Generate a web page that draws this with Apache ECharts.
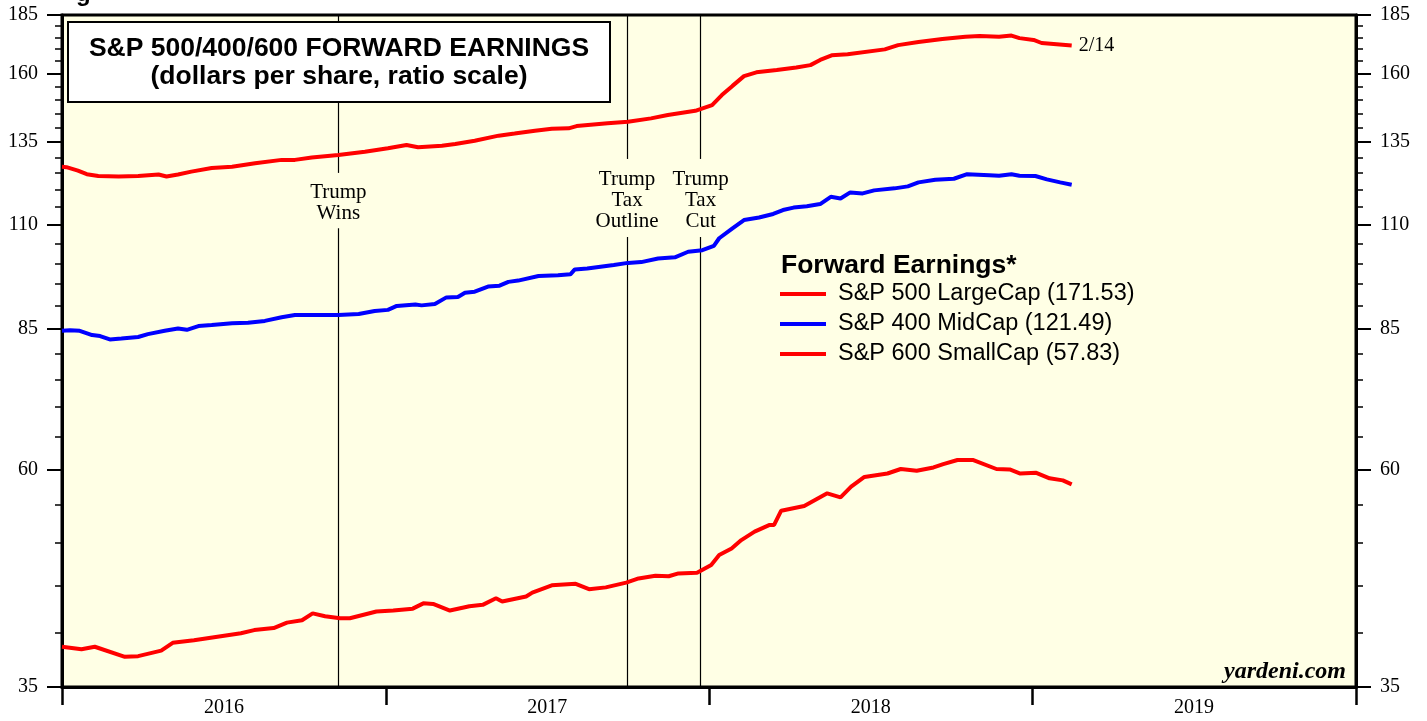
<!DOCTYPE html>
<html lang="en">
<head>
<meta charset="utf-8">
<title>S&amp;P 500/400/600 Forward Earnings</title>
<script src="https://cdn.jsdelivr.net/npm/echarts@6/dist/echarts.min.js"></script>
<style>
  html, body { margin: 0; padding: 0; background: #fff; }
  #main { width: 1427px; height: 721px; }
</style>
</head>
<body>
<div id="main"></div>
<script>
// weekly forward earnings (dollars per share)
var largeDates = ['2016-01-01','2016-01-06','2016-01-19','2016-01-29','2016-02-11','2016-03-05','2016-03-27','2016-04-19','2016-04-28','2016-05-11',
  '2016-05-26','2016-06-18','2016-07-11','2016-08-06','2016-09-05','2016-09-20','2016-10-09','2016-11-08','2016-12-08','2017-01-03',
  '2017-01-24','2017-02-06','2017-03-05','2017-03-20','2017-04-11','2017-05-08','2017-05-26','2017-06-18','2017-07-07','2017-07-26',
  '2017-08-04','2017-09-08','2017-10-01','2017-10-27','2017-11-15','2017-12-16','2018-01-04','2018-01-15','2018-01-27','2018-02-09',
  '2018-02-23','2018-03-18','2018-04-09','2018-04-25','2018-05-06','2018-05-19','2018-06-06','2018-07-18','2018-08-02','2018-08-25',
  '2018-09-21','2018-10-17','2018-11-02','2018-11-24','2018-12-08','2018-12-17','2019-01-02','2019-01-11','2019-01-28','2019-02-14'];
var largeVals = [127.0,126.9,125.8,124.7,124.15,124.0,124.15,124.6,124.0,124.6,
  125.5,126.6,127.0,128.1,129.2,129.2,130.0,130.8,131.85,132.96,
  134.05,133.3,133.8,134.4,135.5,137.2,137.9,138.9,139.6,139.7,
  140.5,141.5,142.0,143.2,144.4,145.9,148.0,151.7,155.2,159.0,
  160.5,161.4,162.4,163.4,165.5,167.4,167.9,169.9,171.7,173.0,
  174.3,175.3,175.6,175.3,175.8,174.7,173.9,172.6,172.1,171.53];

var midDates = ['2016-01-01','2016-01-10','2016-01-21','2016-02-04','2016-02-13','2016-02-24','2016-03-08','2016-03-27','2016-04-07','2016-04-26',
  '2016-05-11','2016-05-21','2016-06-03','2016-06-18','2016-07-11','2016-07-29','2016-08-17','2016-09-05','2016-09-20','2016-10-20',
  '2016-11-08','2016-12-01','2016-12-19','2017-01-03','2017-01-13','2017-02-03','2017-02-10','2017-02-25','2017-03-10','2017-03-23',
  '2017-03-31','2017-04-11','2017-04-26','2017-05-09','2017-05-19','2017-05-30','2017-06-22','2017-07-14','2017-07-28','2017-08-02',
  '2017-08-16','2017-09-15','2017-10-01','2017-10-16','2017-11-04','2017-11-23','2017-12-08','2017-12-24','2018-01-06','2018-01-12',
  '2018-01-27','2018-02-09','2018-02-26','2018-03-14','2018-03-25','2018-04-06','2018-04-21','2018-05-06','2018-05-18','2018-05-29',
  '2018-06-09','2018-06-23','2018-07-06','2018-07-29','2018-08-13','2018-08-25','2018-09-13','2018-10-04','2018-10-19','2018-11-13',
  '2018-11-24','2018-12-08','2018-12-17','2019-01-04','2019-01-17','2019-02-01','2019-02-14'];
var midVals = [84.6,84.7,84.6,83.7,83.5,82.8,83.0,83.3,83.9,84.6,
  85.1,84.8,85.6,85.8,86.2,86.3,86.7,87.5,87.97,88.0,
  88.0,88.2,88.85,89.1,89.97,90.3,90.1,90.4,91.9,92.0,
  92.97,93.2,94.4,94.6,95.5,95.8,96.9,97.1,97.3,98.5,
  98.7,99.6,100.1,100.3,101.2,101.5,102.9,103.3,104.4,106.4,
  109.05,111.3,112.0,113.0,114.1,114.8,115.2,115.8,117.9,117.4,
  119.2,118.9,119.8,120.4,121.0,122.2,123.0,123.3,124.7,124.4,
  124.2,124.7,124.2,124.15,123.1,122.2,121.49];

var smallDates = ['2016-01-01','2016-01-23','2016-02-07','2016-03-12','2016-03-27','2016-04-22','2016-05-05','2016-05-29','2016-07-21','2016-08-05',
  '2016-08-27','2016-09-11','2016-09-28','2016-10-10','2016-10-24','2016-11-10','2016-11-21','2016-12-21','2017-01-09','2017-01-31',
  '2017-02-12','2017-02-23','2017-03-14','2017-04-05','2017-04-20','2017-05-05','2017-05-12','2017-06-08','2017-06-15','2017-07-07',
  '2017-08-03','2017-08-18','2017-09-06','2017-09-29','2017-10-13','2017-11-01','2017-11-16','2017-11-27','2017-12-18','2018-01-03',
  '2018-01-12','2018-01-26','2018-02-06','2018-02-21','2018-03-10','2018-03-15','2018-03-23','2018-04-18','2018-05-14','2018-05-29',
  '2018-06-10','2018-06-25','2018-07-21','2018-08-05','2018-08-23','2018-09-11','2018-09-22','2018-10-08','2018-10-26','2018-11-21',
  '2018-12-06','2018-12-18','2019-01-05','2019-01-20','2019-02-04','2019-02-14'];
var smallVals = [38.67,38.43,38.67,37.72,37.78,38.3,39.05,39.3,39.98,40.3,
  40.5,41.05,41.3,42.0,41.7,41.5,41.5,42.2,42.3,42.5,
  43.06,43.0,42.3,42.75,42.9,43.6,43.25,43.8,44.22,45.03,
  45.2,44.6,44.8,45.33,45.8,46.1,46.05,46.38,46.45,47.35,
  48.54,49.34,50.37,51.43,52.3,52.3,54.17,54.8,56.55,56.0,
  57.5,58.9,59.4,60.07,59.8,60.3,60.8,61.42,61.42,60.07,
  60.0,59.4,59.5,58.7,58.4,57.83];

var seriesNames = ['S&P 500 LargeCap (171.53)', 'S&P 400 MidCap (121.49)', 'S&P 600 SmallCap (57.83)'];

var yTickLabels = [35, 60, 85, 110, 135, 160, 185];
var yearStarts = ['2016-01-01', '2017-01-01', '2018-01-01', '2019-01-01', '2020-01-01'];
var yearMids = ['2016-07-02', '2017-07-02', '2018-07-02', '2019-07-02'];

var events = [
  { date: '2016-11-08', text: 'Trump\nWins', gapTop: 125.1, gapBottom: 109.1, mid: 116.0 },
  { date: '2017-09-30', text: 'Trump\nTax\nOutline', gapTop: 129.5, gapBottom: 106.7, mid: 116.8 },
  { date: '2017-12-22', text: 'Trump\nTax\nCut', gapTop: 129.5, gapBottom: 106.7, mid: 116.8 }
];

// ratio scale: plot the log of each value; dates as UTC milliseconds
function toRatio(v) { return Math.log(v); }
function ms(d) { return Date.parse(d); }
function pairs(dates, vals) {
  return dates.map(function (d, i) { return [ms(d), toRatio(vals[i])]; });
}

var yMin = toRatio(35), yMax = toRatio(185);
var minorTicks = [];
for (var t = 35; t <= 185; t += 5) minorTicks.push(toRatio(t));
var majorTicks = yTickLabels.map(toRatio);

var serif = '"Liberation Serif", "Times New Roman", serif';
var sans = '"Liberation Sans", Arial, Helvetica, sans-serif';

function yAxisDef(pos, major) {
  return {
    type: 'value', position: pos, min: yMin, max: yMax,
    axisLine: { show: major, lineStyle: { color: '#000', width: 3 } },
    axisTick: { show: true, inside: false, customValues: major ? majorTicks : minorTicks,
      length: major ? 15 : 7, lineStyle: { color: '#000', width: major ? 2 : 1.5 } },
    axisLabel: { show: major, customValues: majorTicks, margin: 24,
      formatter: function (v) { return String(Math.round(Math.exp(v))); },
      color: '#000', fontFamily: serif, fontSize: 20 },
    splitLine: { show: false }
  };
}

var markLineData = [];
var markPointData = [];
events.forEach(function (e) {
  markLineData.push([{ coord: [ms(e.date), yMax] }, { coord: [ms(e.date), toRatio(e.gapTop)] }]);
  markLineData.push([{ coord: [ms(e.date), toRatio(e.gapBottom)] }, { coord: [ms(e.date), yMin] }]);
  markPointData.push({ name: e.text, coord: [ms(e.date), toRatio(e.mid)] });
});

var chart = echarts.init(document.getElementById('main'));
var option = {
  animation: false,
  backgroundColor: '#ffffff',
  grid: {
    left: 62, right: 71, top: 15, bottom: 34,
    show: true, backgroundColor: '#ffffe5', borderColor: '#000', borderWidth: 3,
    outerBoundsMode: 'none'
  },
  xAxis: {
    type: 'value', min: ms(yearStarts[0]), max: ms(yearStarts[yearStarts.length - 1]),
    axisLine: { lineStyle: { color: '#000', width: 3 } },
    axisTick: { show: true, inside: false, customValues: yearStarts.map(ms), length: 18,
      lineStyle: { color: '#000', width: 2.5 } },
    axisLabel: { customValues: yearMids.map(ms), margin: 11,
      formatter: function (v) { return String(new Date(v).getUTCFullYear()); },
      color: '#000', fontFamily: serif, fontSize: 20 },
    splitLine: { show: false }
  },
  yAxis: [yAxisDef('left', true), yAxisDef('left', false), yAxisDef('right', true), yAxisDef('right', false)],
  legend: {
    orient: 'vertical', left: 780, top: 282, padding: 0, itemWidth: 46, itemHeight: 4, itemGap: 6,
    icon: 'rect', data: seriesNames, selectedMode: false,
    textStyle: { color: '#000', fontFamily: sans, fontSize: 23.5, lineHeight: 24, padding: [0, 0, 0, 7] }
  },
  graphic: [
    { type: 'text', left: 76, top: -18, style: { text: 'g', font: 'bold 24px ' + sans, fill: '#000' } },
    { type: 'rect', shape: { x: 68, y: 22, width: 542, height: 80 },
      style: { fill: '#fff', stroke: '#000', lineWidth: 2 }, z: 10 },
    { type: 'text', x: 339, y: 49, z: 11,
      style: { text: 'S&P 500/400/600 FORWARD EARNINGS', font: 'bold 26.5px ' + sans, fill: '#000',
        align: 'center', verticalAlign: 'middle' } },
    { type: 'text', x: 339, y: 77, z: 11,
      style: { text: '(dollars per share, ratio scale)', font: 'bold 26.5px ' + sans, fill: '#000',
        align: 'center', verticalAlign: 'middle' } },
    { type: 'text', x: 781, y: 266, z: 11,
      style: { text: 'Forward Earnings*', font: 'bold 26.5px ' + sans, fill: '#000',
        align: 'left', verticalAlign: 'middle' } },
    { type: 'text', x: 1346, y: 672, z: 11,
      style: { text: 'yardeni.com', font: 'italic bold 24px ' + serif, fill: '#000',
        align: 'right', verticalAlign: 'middle' } }
  ],
  series: [
    {
      name: seriesNames[0], type: 'line', yAxisIndex: 0, z: 3,
      data: pairs(largeDates, largeVals), showSymbol: false, symbol: 'none',
      color: '#ff0000', lineStyle: { color: '#ff0000', width: 4 },
      endLabel: { show: true, formatter: '2/14', distance: 7, color: '#000', fontFamily: serif, fontSize: 20 },
      markLine: {
        silent: true, symbol: 'none', z: 1, label: { show: false },
        lineStyle: { color: '#000', width: 1.2, type: 'solid' },
        data: markLineData
      },
      markPoint: {
        silent: true, symbolSize: 0, z: 1,
        label: { show: true, position: 'inside', formatter: '{b}', color: '#000',
          fontFamily: serif, fontSize: 21, lineHeight: 21, align: 'center', verticalAlign: 'middle' },
        data: markPointData
      }
    },
    {
      name: seriesNames[1], type: 'line', yAxisIndex: 0, z: 3,
      data: pairs(midDates, midVals), showSymbol: false, symbol: 'none',
      color: '#0000ff', lineStyle: { color: '#0000ff', width: 4 }
    },
    {
      name: seriesNames[2], type: 'line', yAxisIndex: 0, z: 3,
      data: pairs(smallDates, smallVals), showSymbol: false, symbol: 'none',
      color: '#ff0000', lineStyle: { color: '#ff0000', width: 4 }
    }
  ]
};
chart.setOption(option);
</script>
</body>
</html>
